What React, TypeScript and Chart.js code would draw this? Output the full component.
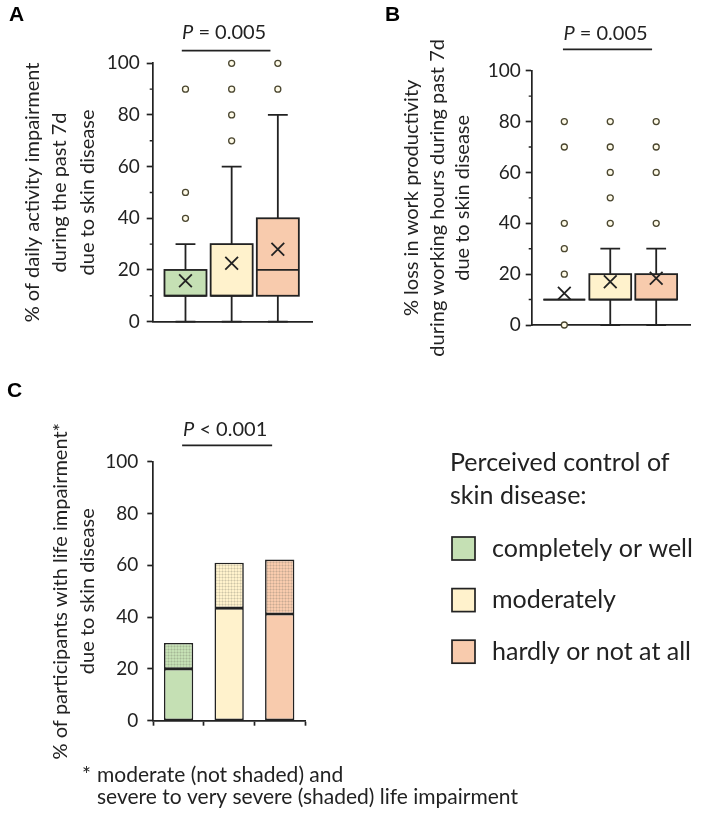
import React, { useEffect, useRef } from 'react';
import { Chart, registerables } from 'chart.js';

Chart.register(...registerables);

// ---------------- data ----------------
const GROUPS = ['completely or well', 'moderately', 'hardly or not at all'];
const GROUP_X = [1, 2, 3];
const GROUP_COLORS = ['#c5e0b4', '#fff2cc', '#f8cbad'];
const Y_MINOR = [10, 30, 50, 70, 90];

// Panel A: % daily activity impairment
const A_LOW = [0, 0, 0];
const A_Q1 = [10, 10, 10];
const A_MEDIAN = [10, 10, 20];
const A_Q3 = [20, 30, 40];
const A_HIGH = [30, 60, 80];
const A_MEAN = [15.8, 22.6, 28.0];
const A_OUTLIERS = [[40, 50, 90], [70, 80, 90, 100], [90, 100]];
const A_TITLE = ['% of daily activity impairment', 'during the past 7d', 'due to skin disease'];

// Panel B: % loss in work productivity
const B_LOW = [10, 0, 0];
const B_Q1 = [10, 10, 10];
const B_MEDIAN = [10, 10, 10];
const B_Q3 = [10, 20, 20];
const B_HIGH = [10, 30, 30];
const B_MEAN = [12.5, 17.0, 18.4];
const B_OUTLIERS = [[0, 20, 30, 40, 70, 80], [40, 50, 60, 70, 80], [40, 60, 70, 80]];
const B_TITLE = ['% loss in work productivity', 'during working hours during past 7d', 'due to skin disease'];

// Panel C: % participants with life impairment
const C_MODERATE = [20, 43.5, 41.2];
const C_SEVERE = [10, 17.5, 21.0];
const C_TITLE = ['% of participants with life impairment*', 'due to skin disease'];

const LEGEND_TITLE = ['Perceived control of', 'skin disease:'];
const FOOTNOTE = ['moderate (not shaded) and', 'severe to very severe (shaded) life impairment'];

// ---------------- styles ----------------
const FONT = 'Lato, "Noto Sans", sans-serif';
const INK = '#222222';
const AXIS_W = 1.7;
const BOX_W = 1.8;

type BoxStats = { low: number[]; q1: number[]; med: number[]; q3: number[]; high: number[] };

function boxPlugin(s: BoxStats) {
  return {
    id: 'boxes',
    beforeDatasetsDraw(chart: any) {
      const { ctx, scales } = chart;
      const x = scales.x, y = scales.y;
      ctx.save();
      ctx.lineWidth = BOX_W;
      ctx.strokeStyle = INK;
      s.q1.forEach((_, i) => {
        const gx = GROUP_X[i];
        const cx = x.getPixelForValue(gx);
        const l = x.getPixelForValue(gx - 0.455);
        const r = x.getPixelForValue(gx + 0.455);
        const cl = x.getPixelForValue(gx - 0.215);
        const cr = x.getPixelForValue(gx + 0.215);
        const yLow = y.getPixelForValue(s.low[i]);
        const yQ1 = y.getPixelForValue(s.q1[i]);
        const yMed = y.getPixelForValue(s.med[i]);
        const yQ3 = y.getPixelForValue(s.q3[i]);
        const yHigh = y.getPixelForValue(s.high[i]);
        ctx.beginPath();
        if (s.low[i] < s.q1[i]) {
          ctx.moveTo(cx, yLow); ctx.lineTo(cx, yQ1);
          ctx.moveTo(cl, yLow); ctx.lineTo(cr, yLow);
        }
        if (s.high[i] > s.q3[i]) {
          ctx.moveTo(cx, yQ3); ctx.lineTo(cx, yHigh);
          ctx.moveTo(cl, yHigh); ctx.lineTo(cr, yHigh);
        }
        ctx.stroke();
        ctx.fillStyle = GROUP_COLORS[i];
        ctx.fillRect(l, yQ3, r - l, yQ1 - yQ3);
        ctx.strokeRect(l, yQ3, r - l, yQ1 - yQ3);
        ctx.beginPath();
        ctx.moveTo(l, yMed); ctx.lineTo(r, yMed);
        ctx.stroke();
      });
      ctx.restore();
    },
  };
}

function minorTickPlugin() {
  return {
    id: 'minorTicks',
    afterDraw(chart: any) {
      const { ctx, chartArea, scales } = chart;
      ctx.save();
      ctx.strokeStyle = INK;
      ctx.lineWidth = 1.4;
      ctx.beginPath();
      Y_MINOR.forEach((v) => {
        const py = scales.y.getPixelForValue(v);
        ctx.moveTo(chartArea.left - 3, py);
        ctx.lineTo(chartArea.left, py);
      });
      ctx.stroke();
      ctx.restore();
    },
  };
}

function titlePlugin(lines: string[], offset: number, spacing: number, size: number) {
  return {
    id: 'axisTitle',
    afterDraw(chart: any) {
      const { ctx, chartArea } = chart;
      const cy = (chartArea.top + chartArea.bottom) / 2;
      ctx.save();
      ctx.font = `${size}px ${FONT}`;
      ctx.fillStyle = INK;
      ctx.textAlign = 'center';
      ctx.textBaseline = 'middle';
      lines.forEach((t, i) => {
        ctx.save();
        ctx.translate(chartArea.left - offset + i * spacing, cy);
        ctx.rotate(-Math.PI / 2);
        ctx.fillText(t, 0, 0);
        ctx.restore();
      });
      ctx.restore();
    },
  };
}

function letterPlugin(letter: string, px: number, py: number) {
  return {
    id: 'panelLetter',
    afterDraw(chart: any) {
      const { ctx } = chart;
      ctx.save();
      ctx.font = 'bold 21px "Liberation Sans", Arial, sans-serif';
      ctx.fillStyle = '#000';
      ctx.textBaseline = 'alphabetic';
      ctx.fillText(letter, px, py);
      ctx.restore();
    },
  };
}

function pValuePlugin(rest: string, from: number, to: number, atY: number, gap: number) {
  return {
    id: 'pValue',
    afterDraw(chart: any) {
      const { ctx, scales } = chart;
      const x1 = scales.x.getPixelForValue(from);
      const x2 = scales.x.getPixelForValue(to);
      const yy = scales.y.getPixelForValue(atY);
      ctx.save();
      ctx.strokeStyle = INK;
      ctx.lineWidth = 1.7;
      ctx.beginPath();
      ctx.moveTo(x1, yy);
      ctx.lineTo(x2, yy);
      ctx.stroke();
      ctx.fillStyle = INK;
      ctx.textBaseline = 'alphabetic';
      ctx.font = `italic 20px ${FONT}`;
      const wP = ctx.measureText('P').width;
      ctx.font = `20px ${FONT}`;
      const wR = ctx.measureText(rest).width;
      const start = (x1 + x2) / 2 - (wP + wR) / 2 - 2;
      ctx.font = `italic 20px ${FONT}`;
      ctx.fillText('P', start, yy - gap);
      ctx.font = `20px ${FONT}`;
      ctx.fillText(rest, start + wP, yy - gap);
      ctx.restore();
    },
  };
}

function legendPlugin() {
  return {
    id: 'customLegend',
    afterDraw(chart: any) {
      const { ctx } = chart;
      ctx.save();
      ctx.fillStyle = INK;
      ctx.font = `25px ${FONT}`;
      ctx.textBaseline = 'alphabetic';
      LEGEND_TITLE.forEach((t, i) => ctx.fillText(t, 450, 131 + i * 32.6));
      GROUPS.forEach((g, i) => {
        const top = 197 + i * 51.6;
        ctx.fillStyle = GROUP_COLORS[i];
        ctx.fillRect(452, top, 23, 23);
        ctx.strokeStyle = INK;
        ctx.lineWidth = 1.7;
        ctx.strokeRect(452, top, 23, 23);
        ctx.fillStyle = INK;
        ctx.textBaseline = 'middle';
        ctx.fillText(g, 492, top + 11.5);
      });
      // footnote
      ctx.font = `21px ${FONT}`;
      ctx.textBaseline = 'alphabetic';
      ctx.fillText('*', 82, 442);
      FOOTNOTE.forEach((t, i) => ctx.fillText(t, 97, 442 + i * 22));
      ctx.restore();
    },
  };
}

function makePattern(base: string) {
  const c = document.createElement('canvas');
  c.width = 3;
  c.height = 3;
  const g = c.getContext('2d')!;
  g.fillStyle = base;
  g.fillRect(0, 0, 3, 3);
  g.fillStyle = 'rgba(110,110,100,0.16)';
  g.fillRect(0, 0, 3, 1);
  g.fillRect(0, 1, 1, 2);
  g.fillStyle = 'rgba(90,90,80,0.18)';
  g.fillRect(0, 0, 1, 1);
  return g.createPattern(c, 'repeat');
}

function yAxis(width: number, pad: number) {
  return {
    min: 0,
    max: 100,
    ticks: { stepSize: 20, color: INK, padding: pad, font: { family: FONT, size: 19 } },
    grid: { drawOnChartArea: false, tickLength: 6, tickColor: INK, tickWidth: AXIS_W },
    border: { color: INK, width: AXIS_W },
    afterFit: (s: any) => { s.width = width; },
  };
}

function boxChartConfig(
  low: number[], q1: number[], med: number[], q3: number[], high: number[],
  mean: number[], outliers: number[][], axisWidth: number, padding: any, tickPad: number,
  extra: any[]
) {
  return {
    type: 'scatter',
    data: {
      datasets: [
        {
          label: 'outliers',
          data: outliers.flatMap((vals, i) => vals.map((v) => ({ x: GROUP_X[i], y: v }))),
          pointStyle: 'circle',
          pointRadius: 3,
          borderWidth: 1.3,
          borderColor: '#4a4630',
          backgroundColor: '#fffbe8',
          clip: false,
        },
        {
          label: 'mean',
          data: mean.map((m, i) => ({ x: GROUP_X[i], y: m })),
          pointStyle: 'crossRot',
          pointRadius: 9,
          borderWidth: 1.8,
          borderColor: INK,
          backgroundColor: INK,
          clip: false,
        },
      ],
    },
    options: {
      responsive: false,
      animation: false,
      events: [],
      layout: { padding },
      plugins: { legend: { display: false }, tooltip: { enabled: false } },
      scales: {
        x: {
          type: 'linear',
          min: 0.29,
          max: 3.74,
          grid: { display: false },
          ticks: { display: false },
          border: { display: true, color: INK, width: AXIS_W },
          afterFit: (s: any) => { s.height = 0; },
        },
        y: yAxis(axisWidth, tickPad),
      },
    },
    plugins: [boxPlugin({ low, q1, med, q3, high }), minorTickPlugin(), ...extra],
  };
}

function makeA() {
  return boxChartConfig(
    A_LOW, A_Q1, A_MEDIAN, A_Q3, A_HIGH, A_MEAN, A_OUTLIERS, 152.7,
    { left: 0, top: 63.3, right: 38, bottom: 16 }, 7,
    [titlePlugin(A_TITLE, 120, 27.3, 20), letterPlugin('A', 9, 21), pValuePlugin(' = 0.005', 0.92, 2.84, 104.9, 12)]
  );
}

function makeB() {
  return boxChartConfig(
    B_LOW, B_Q1, B_MEDIAN, B_Q3, B_HIGH, B_MEAN, B_OUTLIERS, 181.7,
    { left: 0, top: 70.7, right: 9.3, bottom: 45 }, 5,
    [titlePlugin(B_TITLE, 120, 25.5, 20), letterPlugin('B', 35, 21), pValuePlugin(' = 0.005', 0.97, 2.91, 108.4, 9)]
  );
}

function makeC() {
  return {
    type: 'bar',
    data: {
      labels: GROUPS,
      datasets: [
        {
          label: 'moderate',
          data: C_MODERATE,
          backgroundColor: GROUP_COLORS,
          borderColor: INK,
          borderWidth: 1.6,
          borderSkipped: false,
        },
        {
          label: 'severe to very severe',
          data: C_SEVERE,
          backgroundColor: GROUP_COLORS.map(makePattern),
          borderColor: INK,
          borderWidth: 1.6,
          borderSkipped: false,
        },
      ],
    },
    options: {
      responsive: false,
      animation: false,
      events: [],
      layout: { padding: { left: 0, top: 121.7, right: 396, bottom: 96.3 } },
      datasets: { bar: { barPercentage: 0.58, categoryPercentage: 1 } },
      plugins: { legend: { display: false }, tooltip: { enabled: false } },
      scales: {
        x: {
          stacked: true,
          offset: true,
          grid: { display: true, offset: true, drawOnChartArea: false, tickLength: 5, tickColor: INK, tickWidth: AXIS_W },
          ticks: { display: false },
          border: { display: true, color: INK, width: AXIS_W },
          afterFit: (s: any) => { s.height = 5; },
        },
        y: { ...yAxis(153.3, 9), stacked: true },
      },
    },
    plugins: [
      titlePlugin(C_TITLE, 93, 27, 20),
      letterPlugin('C', 7, 57),
      pValuePlugin(' < 0.001', 0.07, 1.85, 106.3, 9),
      legendPlugin(),
    ],
  };
}

function ChartBox(props: { left: number; top: number; width: number; height: number; make: () => any }) {
  const ref = useRef<HTMLCanvasElement>(null);
  useEffect(() => {
    const chart = new Chart(ref.current as HTMLCanvasElement, props.make());
    return () => chart.destroy();
  }, []);
  return (
    <canvas
      ref={ref}
      width={props.width}
      height={props.height}
      style={{ position: 'absolute', left: props.left, top: props.top, width: props.width, height: props.height }}
    />
  );
}

export default function App() {
  return (
    <div style={{ position: 'absolute', left: 0, top: 0, width: 701, height: 822, background: '#ffffff' }}>
      <ChartBox left={0} top={340} width={701} height={482} make={makeC} />
      <ChartBox left={0} top={0} width={350} height={340} make={makeA} />
      <ChartBox left={350} top={0} width={351} height={370} make={makeB} />
    </div>
  );
}
